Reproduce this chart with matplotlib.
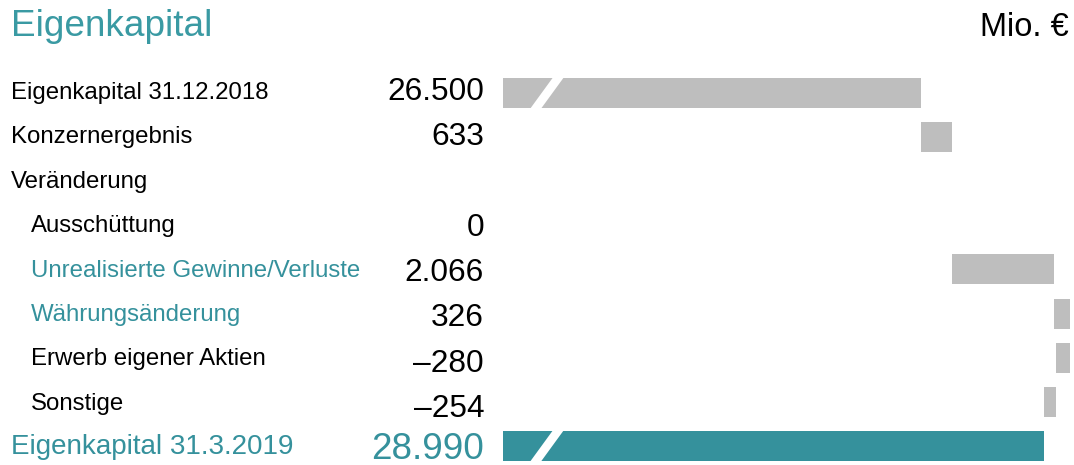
import numpy as np
import matplotlib.pyplot as plt

plt.rcParams['font.family'] = ['Liberation Sans', 'DejaVu Sans']

# Daten (Mio. €)
etiketten = ["Eigenkapital 31.12.2018", "Konzernergebnis", "Veränderung", "Ausschüttung",
             "Unrealisierte Gewinne/Verluste", "Währungsänderung", "Erwerb eigener Aktien",
             "Sonstige", "Eigenkapital 31.3.2019"]
werte = [26500, 633, None, 0, 2066, 326, -280, -254, 28990]
wert_texte = ["26.500", "633", "", "0", "2.066", "326", "–280", "–254", "28.990"]
eingerueckt = [False, False, False, True, True, True, True, True, False]
teal_label = [False, False, False, False, True, True, False, False, False]

TEAL = "#35919c"
GRAU = "#bebebe"

W, H = 1074, 465
fig = plt.figure(figsize=(W/100, H/100), dpi=100)
ax_x0 = 503
ax = fig.add_axes([ax_x0/W, 0, 1 - ax_x0/W, 1])
ax.axis("off")

x_min = 18000          # gebrochene Achse
einh_px = 20.33        # Mio. € pro Pixel
ax.set_xlim(x_min, x_min + (W - ax_x0)*einh_px)
ax.set_ylim(8.435, -2.109)

hoehe = 0.68
stand = 0
for i, v in enumerate(werte):
    if v is None:
        continue
    if i == 0:
        ax.barh(i, v - x_min, left=x_min, height=hoehe, color=GRAU)
        stand = v
    elif i == len(werte) - 1:
        ax.barh(i, v - x_min, left=x_min, height=hoehe, color=TEAL)
    else:
        if v != 0:
            ax.barh(i, v, left=stand, height=hoehe, color=GRAU)
        stand += v

# Bruchstriche
for i in (0, len(werte) - 1):
    b0, b1 = i + hoehe/2 + 0.02, i - hoehe/2 - 0.02
    xs = [18550, 18770, 19240, 19020]
    ax.fill(xs, [b0, b0, b1, b1], color="white", lw=0, zorder=3)

# Texte (Grundlinien in Pixeln von oben)
for i, lab in enumerate(etiketten):
    letzte = i == len(etiketten) - 1
    x = (31 if eingerueckt[i] else 11)/W
    farbe = TEAL if (teal_label[i] or letzte) else "black"
    fig.text(x, 1 - (99 + 44.4*i)/H, lab, ha="left", va="baseline",
             fontsize=20 if letzte else 17.3, color=farbe)
    if wert_texte[i]:
        basis = 459 if letzte else 100 + 45.3*i
        fig.text(484/W, 1 - basis/H, wert_texte[i], ha="right", va="baseline",
                 fontsize=26.6 if letzte else 22.8,
                 color=TEAL if letzte else "black")

fig.text(11/W, 1 - 36/H, "Eigenkapital", fontsize=26.6, color="#3a9aa3",
         ha="left", va="baseline")
fig.text(1069/W, 1 - 36/H, "Mio. €", fontsize=23.5, color="black",
         ha="right", va="baseline")

fig.savefig("out.png", dpi=100)
